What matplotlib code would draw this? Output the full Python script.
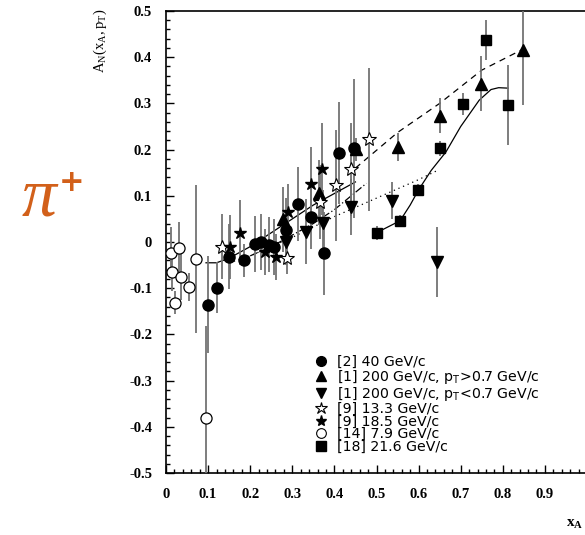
import matplotlib
matplotlib.use("Agg")
import matplotlib.pyplot as plt
from matplotlib.lines import Line2D

plt.rcParams['mathtext.fontset'] = 'custom'
plt.rcParams['mathtext.rm'] = 'Liberation Serif'
plt.rcParams['mathtext.it'] = 'Liberation Serif:italic'
plt.rcParams['mathtext.bf'] = 'Liberation Serif:bold'
plt.rcParams['mathtext.sf'] = 'DejaVu Sans'

# [2] 40 GeV/c  (filled circles)
x_40 = [0.100, 0.120, 0.150, 0.185, 0.212, 0.225, 0.245, 0.256, 0.286, 0.313, 0.344, 0.376, 0.412, 0.446]
y_40 = [-0.136, -0.099, -0.032, -0.040, -0.004, 0.000, -0.006, -0.011, 0.025, 0.082, 0.054, -0.024, 0.193, 0.203]
e_40 = [0.105, 0.055, 0.07, 0.035, 0.06, 0.06, 0.06, 0.06, 0.07, 0.08, 0.07, 0.09, 0.11, 0.15]

# [1] 200 GeV/c, pT>0.7 (up triangles)
x_hi = [0.278, 0.363, 0.452, 0.552, 0.651, 0.748, 0.849]
y_hi = [0.049, 0.107, 0.201, 0.205, 0.273, 0.343, 0.416]
e_hi = [0.07, 0.07, 0.025, 0.03, 0.038, 0.06, 0.12]

# [1] 200 GeV/c, pT<0.7 (down triangles)
x_lo = [0.286, 0.333, 0.373, 0.440, 0.537, 0.644]
y_lo = [0.001, 0.022, 0.042, 0.076, 0.089, -0.043]
e_lo = [0.05, 0.07, 0.07, 0.06, 0.04, 0.075]

# [9] 13.3 GeV/c (open stars)
x_133 = [0.132, 0.288, 0.365, 0.403, 0.440, 0.482]
y_133 = [-0.010, -0.035, 0.087, 0.123, 0.157, 0.222]
e_133 = [0.07, 0.035, 0.08, 0.12, 0.10, 0.155]

# [9] 18.5 GeV/c (filled stars)
x_185 = [0.152, 0.175, 0.235, 0.261, 0.290, 0.345, 0.371]
y_185 = [-0.011, 0.020, -0.021, -0.032, 0.065, 0.125, 0.158]
e_185 = [0.07, 0.07, 0.05, 0.05, 0.06, 0.08, 0.10]

# [14] 7.9 GeV/c (open circles)
x_79 = [0.013, 0.031, 0.015, 0.035, 0.055, 0.021, 0.071, 0.094]
y_79 = [-0.023, -0.012, -0.066, -0.075, -0.098, -0.131, -0.037, -0.382]
e_79 = [0.055, 0.055, 0.04, 0.05, 0.03, 0.025, 0.16, 0.20]

# [18] 21.6 GeV/c (squares)
x_216 = [0.502, 0.556, 0.598, 0.652, 0.705, 0.760, 0.813]
y_216 = [0.020, 0.046, 0.113, 0.203, 0.299, 0.437, 0.297]
e_216 = [0.015, 0.012, 0.012, 0.016, 0.024, 0.043, 0.087]

# model curves
cA_x = [0.095, 0.12, 0.15, 0.20, 0.25, 0.30, 0.35, 0.40, 0.45]
cA_y = [-0.045, -0.045, -0.035, -0.010, 0.020, 0.050, 0.080, 0.105, 0.130]
cB_x = [0.50, 0.556, 0.58, 0.60, 0.63, 0.665, 0.70, 0.744, 0.772, 0.79, 0.813]
cB_y = [0.020, 0.046, 0.080, 0.113, 0.155, 0.195, 0.250, 0.307, 0.330, 0.334, 0.333]
dash_x = [0.45, 0.55, 0.65, 0.75, 0.845]
dash_y = [0.160, 0.237, 0.300, 0.372, 0.416]
dsh2_x = [0.20, 0.25, 0.30, 0.35, 0.40, 0.476]
dsh2_y = [-0.030, -0.010, 0.015, 0.040, 0.070, 0.127]
dot_x = [0.15, 0.20, 0.30, 0.40, 0.50, 0.60, 0.645]
dot_y = [-0.045, -0.030, 0.010, 0.055, 0.095, 0.135, 0.155]

xticks = [0, 0.1, 0.2, 0.3, 0.4, 0.5, 0.6, 0.7, 0.8, 0.9, 1.0]
xlabels = ['0', '0.1', '0.2', '0.3', '0.4', '0.5', '0.6', '0.7', '0.8', '0.9', '1']
yticks = [-0.5, -0.4, -0.3, -0.2, -0.1, 0, 0.1, 0.2, 0.3, 0.4, 0.5]
ylabels = ['-0.5', '-0.4', '-0.3', '-0.2', '-0.1', '0', '0.1', '0.2', '0.3', '0.4', '0.5']

W, H = 585, 535
fig = plt.figure(figsize=(W / 100, H / 100), dpi=100)
ax = fig.add_axes([166 / W, 1 - 473 / H, (587 - 166) / W, (473 - 11) / H])
ax.set_xlim(0, 1)
ax.set_ylim(-0.5, 0.5)

ecol = '0.45'
common = dict(ls='none', ecolor=ecol, elinewidth=1.3, capsize=0, zorder=3)
ax.errorbar(x_79, y_79, yerr=e_79, marker='o', ms=8, mfc='white', mec='black', mew=0.9, **common)
ax.errorbar(x_40, y_40, yerr=e_40, marker='o', ms=8, mfc='black', mec='black', **common)
ax.errorbar(x_hi, y_hi, yerr=e_hi, marker='^', ms=8, mfc='black', mec='black', **common)
ax.errorbar(x_lo, y_lo, yerr=e_lo, marker='v', ms=8, mfc='black', mec='black', **common)
ax.errorbar(x_133, y_133, yerr=e_133, marker='*', ms=10, mfc='white', mec='black', mew=0.8, **common)
ax.errorbar(x_185, y_185, yerr=e_185, marker='*', ms=9, mfc='black', mec='black', **common)
ax.errorbar(x_216, y_216, yerr=e_216, marker='s', ms=7, mfc='black', mec='black', **common)

ax.plot(cA_x, cA_y, color='black', lw=0.9, zorder=2)
ax.plot(cB_x, cB_y, color='black', lw=0.9, zorder=2)
ax.plot(dash_x, dash_y, color='black', lw=0.9, ls=(0, (5, 4)), zorder=2)
ax.plot(dsh2_x, dsh2_y, color='black', lw=0.9, ls=(0, (6, 2, 1, 2)), zorder=2)
ax.plot(dot_x, dot_y, color='black', lw=0.9, ls=(0, (1, 3)), zorder=2)

ax.set_xticks(xticks)
ax.set_xticklabels(xlabels)
ax.set_yticks(yticks)
ax.set_yticklabels(ylabels)
ax.xaxis.set_minor_locator(matplotlib.ticker.MultipleLocator(0.02))
ax.yaxis.set_minor_locator(matplotlib.ticker.MultipleLocator(0.02))
ax.tick_params(which='both', direction='in', top=False, right=False, width=1.0)
ax.tick_params(which='major', length=6)
ax.tick_params(which='minor', length=3)
ax.tick_params(axis='x', pad=11)
ax.tick_params(axis='y', pad=10)
for lab in ax.get_xticklabels() + ax.get_yticklabels():
    lab.set_fontfamily('Liberation Serif')
    lab.set_fontweight('bold')
    lab.set_fontsize(10.5)
for sp in ax.spines.values():
    sp.set_linewidth(1.2)

# legend
handles = [
    Line2D([], [], ls='none', marker='o', ms=7, mfc='black', mec='black'),
    Line2D([], [], ls='none', marker='^', ms=7, mfc='black', mec='black'),
    Line2D([], [], ls='none', marker='v', ms=7, mfc='black', mec='black'),
    Line2D([], [], ls='none', marker='*', ms=9, mfc='white', mec='black', mew=0.8),
    Line2D([], [], ls='none', marker='*', ms=8, mfc='black', mec='black'),
    Line2D([], [], ls='none', marker='o', ms=7, mfc='white', mec='black', mew=0.8),
    Line2D([], [], ls='none', marker='s', ms=7, mfc='black', mec='black'),
]
labels = [
    '[2] 40 GeV/c',
    r'[1] 200 GeV/c, p$_\mathsf{T}$>0.7 GeV/c',
    r'[1] 200 GeV/c, p$_\mathsf{T}$<0.7 GeV/c',
    '[9] 13.3 GeV/c',
    '[9] 18.5 GeV/c',
    '[14] 7.9 GeV/c',
    '[18] 21.6 GeV/c',
]
leg = ax.legend(handles, labels, loc='upper left', bbox_to_anchor=(314 / W, 1 - 355 / H),
                bbox_transform=fig.transFigure, frameon=False, handlelength=1.0,
                handletextpad=0.6, labelspacing=-0.08, borderpad=0, borderaxespad=0,
                prop={'family': 'DejaVu Sans', 'size': 10.2})

fig.text(100 / W, 1 - 8 / H, r'$\mathregular{A_N(x_A,p_T)}$', rotation=90, ha='center', va='top',
         fontsize=10.5, family='Liberation Serif')
fig.text(575 / W, 1 - 524 / H, r'$\mathbf{x_A}$', ha='center', va='center', fontsize=11,
         family='Liberation Serif', fontweight='bold')
fig.text(40 / W, 1 - 196 / H, r'$\pi$', ha='center', va='center', fontsize=50,
         color='#D2601A')
fig.text(72 / W, 1 - 182 / H, '+', ha='center', va='center', fontsize=22, fontweight='bold',
         color='#D2601A', family='DejaVu Sans')

fig.savefig('out.png', dpi=100)
